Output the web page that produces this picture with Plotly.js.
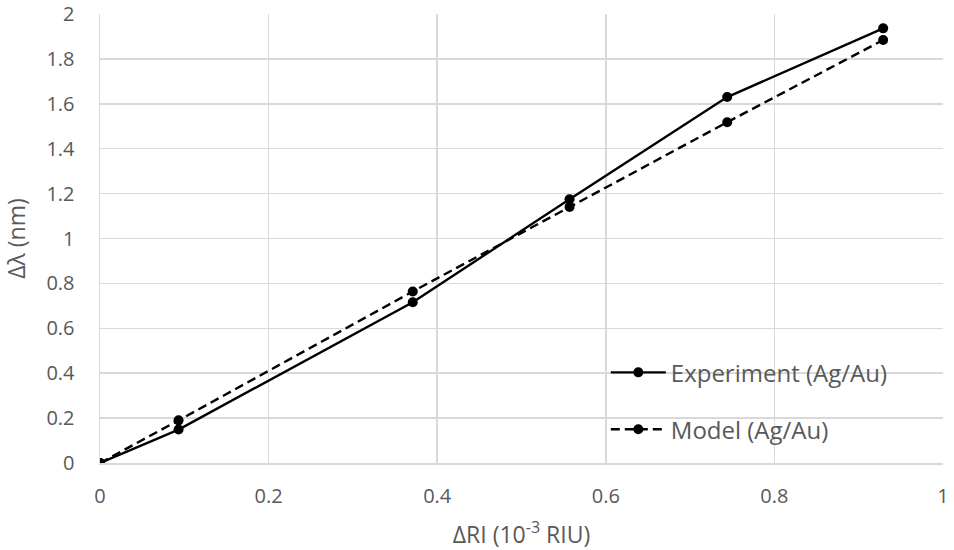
<!DOCTYPE html>
<html>
<head>
<meta charset="utf-8">
<script src="https://cdn.plot.ly/plotly-3.0.1.min.js"></script>
<style>html,body{margin:0;padding:0;background:#fff;}#chart{width:954px;height:550px;}</style>
</head>
<body>
<div id="chart"></div>
<script>
const deltaRI = [0, 0.0932, 0.371, 0.557, 0.744, 0.929];
const experiment = [0, 0.149, 0.716, 1.175, 1.630, 1.936];
const model = [0, 0.19, 0.764, 1.14, 1.518, 1.884];
const seriesNames = ['Experiment (Ag/Au)', 'Model (Ag/Au)'];
const xTicks = [0, 0.2, 0.4, 0.6, 0.8, 1];
const yTicks = [0, 0.2, 0.4, 0.6, 0.8, 1, 1.2, 1.4, 1.6, 1.8, 2];

const font = '"Open Sans", Lato, sans-serif';
const grey = '#595959';
const traces = [
  {x: deltaRI, y: experiment, name: seriesNames[0], mode: 'lines+markers', legend: 'legend',
   line: {color: '#000', width: 2.4, dash: 'solid'}, marker: {color: '#000', size: 10}},
  {x: deltaRI, y: model, name: seriesNames[1], mode: 'lines+markers', legend: 'legend2',
   line: {color: '#000', width: 2.4, dash: '9px,5px'}, marker: {color: '#000', size: 10}}
];
const legendBase = {bgcolor: 'rgba(0,0,0,0)', borderwidth: 0, font: {family: font, size: 24, color: grey},
  itemwidth: 55, xanchor: 'left', yanchor: 'middle'};
const layout = {
  width: 954, height: 550,
  margin: {l: 100, r: 10.5, t: 13.5, b: 86.5},
  paper_bgcolor: '#fff', plot_bgcolor: '#fff',
  font: {family: font, color: grey, size: 20},
  showlegend: true,
  legend: Object.assign({}, legendBase, {x: 0.6, y: 0.201}),
  legend2: Object.assign({}, legendBase, {x: 0.6, y: 0.0744}),
  xaxis: {range: [0, 1], tickvals: xTicks, ticktext: xTicks.map(String), showgrid: true, gridcolor: '#d9d9d9', gridwidth: 1.5,
    zeroline: false, showline: true, linecolor: '#d9d9d9', linewidth: 1.5, ticks: '', ticklabelstandoff: 14,
    tickfont: {family: font, size: 20, color: grey},
    title: {text: 'ΔRI (10<sup>-3</sup> RIU)', font: {family: font, size: 23, color: grey}, standoff: 21}},
  yaxis: {range: [0, 2], tickvals: yTicks, ticktext: yTicks.map(String), showgrid: true, gridcolor: '#d9d9d9', gridwidth: 1.5,
    zeroline: false, showline: true, linecolor: '#d9d9d9', linewidth: 1.5, ticks: '', ticklabelstandoff: 20,
    tickfont: {family: font, size: 20, color: grey},
    title: {text: 'Δλ (nm)', font: {family: font, size: 23, color: grey}, standoff: 19}}
};
Plotly.newPlot('chart', traces, layout, {staticPlot: true});
</script>
</body>
</html>
